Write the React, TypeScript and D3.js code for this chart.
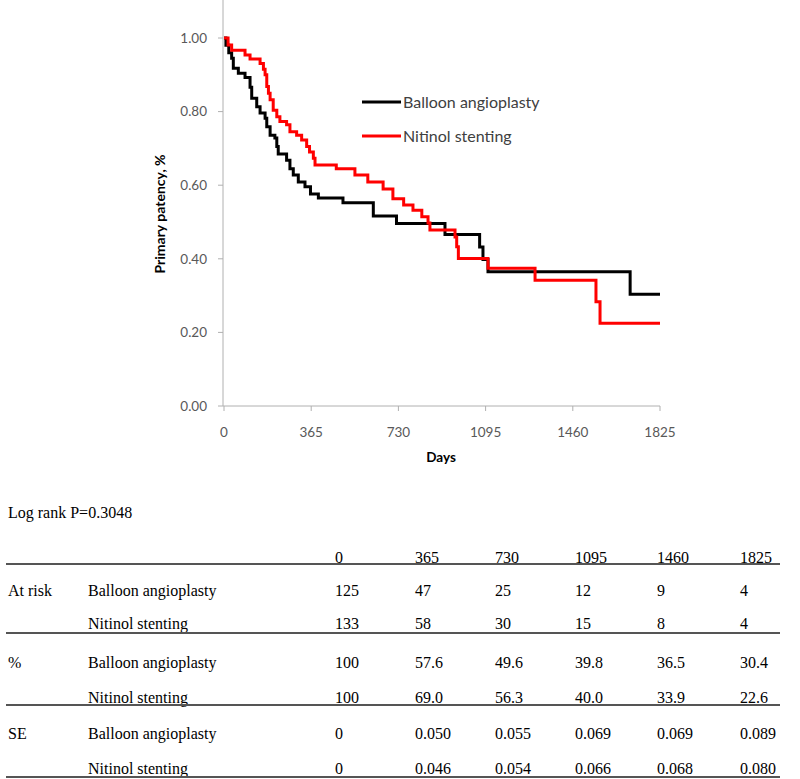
import React from "react";
import * as d3 from "d3";

const tickDays = [0, 365, 730, 1095, 1460, 1825];
const yTicks = [0, 0.2, 0.4, 0.6, 0.8, 1.0];

const balloonTimes = [0, 8, 20, 32, 39, 60, 88, 109, 116, 137, 151, 172, 179, 193, 213, 221, 227, 262, 276, 290, 311, 339, 362, 395, 498, 625, 722, 925, 1070, 1084, 1105, 1700];
const balloonSurv = [1.0, 0.98, 0.96, 0.945, 0.918, 0.904, 0.893, 0.866, 0.836, 0.813, 0.796, 0.782, 0.759, 0.736, 0.728, 0.705, 0.685, 0.668, 0.645, 0.628, 0.609, 0.596, 0.576, 0.565, 0.552, 0.516, 0.496, 0.466, 0.432, 0.398, 0.365, 0.304];

const nitinolTimes = [0, 17, 32, 88, 109, 151, 165, 172, 179, 186, 193, 206, 221, 234, 262, 276, 304, 325, 346, 358, 374, 381, 470, 548, 602, 666, 707, 752, 791, 828, 854, 862, 967, 974, 981, 1105, 1302, 1557, 1574];
const nitinolSurv = [1.0, 0.981, 0.967, 0.954, 0.943, 0.931, 0.915, 0.9, 0.868, 0.85, 0.832, 0.804, 0.786, 0.773, 0.764, 0.745, 0.736, 0.723, 0.705, 0.69, 0.673, 0.655, 0.645, 0.628, 0.609, 0.59, 0.563, 0.546, 0.532, 0.514, 0.497, 0.478, 0.459, 0.433, 0.401, 0.374, 0.342, 0.283, 0.225];

const seriesNames = ["Balloon angioplasty", "Nitinol stenting"];
const seriesColors = ["#000000", "#ff0000"];

const tableHeader = ["0", "365", "730", "1095", "1460", "1825"];
const atRiskBalloon = ["125", "47", "25", "12", "9", "4"];
const atRiskNitinol = ["133", "58", "30", "15", "8", "4"];
const pctBalloon = ["100", "57.6", "49.6", "39.8", "36.5", "30.4"];
const pctNitinol = ["100", "69.0", "56.3", "40.0", "33.9", "22.6"];
const seBalloon = ["0", "0.050", "0.055", "0.069", "0.069", "0.089"];
const seNitinol = ["0", "0.046", "0.054", "0.066", "0.068", "0.080"];

const W = 800;
const H = 779;

export default function App() {
  const x = d3.scaleLinear().domain([0, 1825]).range([224, 660]);
  const y = d3.scaleLinear().domain([0, 1]).range([406, 38]);

  const line = d3
    .line<[number, number]>()
    .x((d) => x(d[0]))
    .y((d) => y(d[1]))
    .curve(d3.curveStepAfter);

  const mk = (t: number[], s: number[]): [number, number][] => {
    const pts: [number, number][] = t.map((v, i) => [v, s[i]]);
    pts.push([1825, s[s.length - 1]]);
    return pts;
  };
  const series = [mk(balloonTimes, balloonSurv), mk(nitinolTimes, nitinolSurv)];

  const sans = "Lato, 'Open Sans', sans-serif";
  const serif = "'Liberation Serif', 'Times New Roman', serif";
  const tickColor = "#595959";
  const axisColor = "#b0b0b0";

  const colX = [335, 415, 495, 575, 657, 740];
  const rows: { label: string; name: string; vals: string[]; yc: number }[] = [
    { label: "At risk", name: seriesNames[0], vals: atRiskBalloon, yc: 590 },
    { label: "", name: seriesNames[1], vals: atRiskNitinol, yc: 623 },
    { label: "%", name: seriesNames[0], vals: pctBalloon, yc: 662 },
    { label: "", name: seriesNames[1], vals: pctNitinol, yc: 697 },
    { label: "SE", name: seriesNames[0], vals: seBalloon, yc: 733 },
    { label: "", name: seriesNames[1], vals: seNitinol, yc: 768 },
  ];
  const ruleYs = [564, 633, 705, 777];

  return (
    <svg
      width={W}
      height={H}
      style={{ position: "absolute", left: 0, top: 0, background: "#fff" }}
    >
      {/* axes */}
      <line x1={x(0) - 1} x2={x(0) - 1} y1={0} y2={y(0)} stroke={axisColor} strokeWidth={1} />
      <line x1={x(0) - 1} x2={x(1825)} y1={y(0)} y2={y(0)} stroke={axisColor} strokeWidth={1} />
      {yTicks.map((t) => (
        <g key={"y" + t}>
          <line x1={x(0) - 6} x2={x(0) - 1} y1={y(t)} y2={y(t)} stroke={axisColor} />
          <text
            x={x(0) - 17}
            y={y(t)}
            dy="0.35em"
            textAnchor="end"
            fontFamily={sans}
            fontSize={13.5}
            fill={tickColor}
          >
            {t.toFixed(2)}
          </text>
        </g>
      ))}
      {tickDays.map((t) => (
        <g key={"x" + t}>
          <line x1={x(t)} x2={x(t)} y1={y(0)} y2={y(0) + 5} stroke={axisColor} />
          <text
            x={x(t)}
            y={432}
            dy="0.35em"
            textAnchor="middle"
            fontFamily={sans}
            fontSize={13.5}
            fill={tickColor}
          >
            {t}
          </text>
        </g>
      ))}
      <text
        x={441}
        y={457}
        dy="0.35em"
        textAnchor="middle"
        fontFamily={sans}
        fontSize={13.5}
        fontWeight="bold"
        fill="#000"
      >
        Days
      </text>
      <text
        transform={`translate(160,214) rotate(-90)`}
        dy="0.35em"
        textAnchor="middle"
        fontFamily={sans}
        fontSize={14}
        fontWeight="bold"
        fill="#000"
      >
        Primary patency, %
      </text>

      {/* curves */}
      {series.map((pts, i) => (
        <path
          key={"s" + i}
          d={line(pts) || ""}
          fill="none"
          stroke={seriesColors[i]}
          strokeWidth={3}
          strokeLinejoin="miter"
        />
      ))}

      {/* legend */}
      {seriesNames.map((n, i) => (
        <g key={"lg" + i}>
          <line x1={362} x2={401} y1={102 + i * 34} y2={102 + i * 34} stroke={seriesColors[i]} strokeWidth={3} />
          <text
            x={403}
            y={102 + i * 34}
            dy="0.35em"
            fontFamily={sans}
            fontSize={16}
            fill="#404040"
          >
            {n}
          </text>
        </g>
      ))}

      {/* table */}
      <text x={8} y={512} dy="0.35em" fontFamily={serif} fontSize={16} fill="#000">
        Log rank P=0.3048
      </text>
      {tableHeader.map((h, j) => (
        <text key={"h" + j} x={colX[j]} y={557} dy="0.35em" fontFamily={serif} fontSize={16} fill="#000">
          {h}
        </text>
      ))}
      {rows.map((r, i) => (
        <g key={"r" + i}>
          {r.label && (
            <text x={8} y={r.yc} dy="0.35em" fontFamily={serif} fontSize={16} fill="#000">
              {r.label}
            </text>
          )}
          <text x={88} y={r.yc} dy="0.35em" fontFamily={serif} fontSize={16} fill="#000">
            {r.name}
          </text>
          {r.vals.map((v, j) => (
            <text key={j} x={colX[j]} y={r.yc} dy="0.35em" fontFamily={serif} fontSize={16} fill="#000">
              {v}
            </text>
          ))}
        </g>
      ))}
      {ruleYs.map((ry, i) => (
        <line key={"rule" + i} x1={6} x2={780} y1={ry} y2={ry} stroke="#555" strokeWidth={2} />
      ))}
    </svg>
  );
}
